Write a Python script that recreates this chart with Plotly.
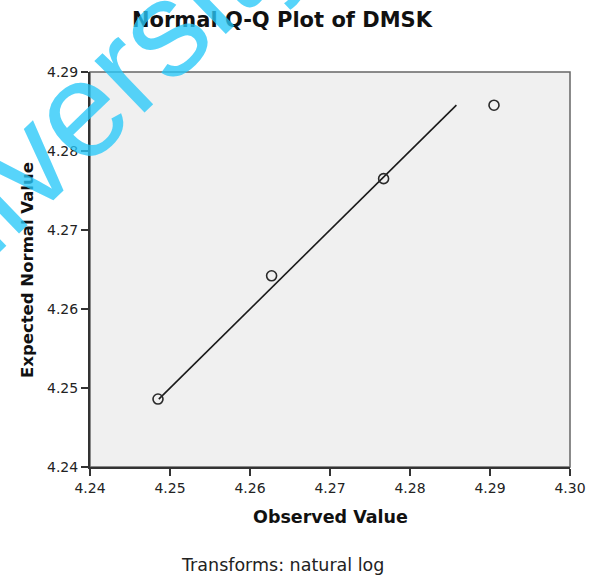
import plotly.graph_objects as go

# Observed (log-transformed) values and their expected normal quantiles
observed = [4.2485, 4.2627, 4.2767, 4.2905]
expected = [4.2486, 4.2642, 4.2765, 4.2858]

x_ticks = [4.24, 4.25, 4.26, 4.27, 4.28, 4.29, 4.30]
x_tick_text = ["4.24", "4.25", "4.26", "4.27", "4.28", "4.29", "4.30"]
y_ticks = [4.24, 4.25, 4.26, 4.27, 4.28, 4.29]
y_tick_text = ["4.24", "4.25", "4.26", "4.27", "4.28", "4.29"]

FONT = "DejaVu Sans"
INK = "#1a1a1a"

fig = go.Figure()

# reference line y = x across the range of expected values
lo, hi = min(expected), max(expected)
fig.add_trace(go.Scatter(
    x=[lo, hi], y=[lo, hi], mode="lines",
    line=dict(color=INK, width=1.6), hoverinfo="skip", showlegend=False,
))

fig.add_trace(go.Scatter(
    x=observed, y=expected, mode="markers",
    marker=dict(symbol="circle-open", size=10, color="#2a2a2a",
                line=dict(width=1.6, color="#2a2a2a")),
    showlegend=False,
))

axis_common = dict(
    showgrid=False, zeroline=False, ticks="outside", ticklen=7,
    tickwidth=1.5, tickcolor="#333", showline=True, linecolor="#333",
    linewidth=2, mirror=False, automargin=False,
    tickfont=dict(family=FONT, size=14, color="#222"),
)

fig.update_xaxes(range=[4.24, 4.30], tickvals=x_ticks, ticktext=x_tick_text,
                 **axis_common)
fig.update_yaxes(range=[4.24, 4.29], tickvals=y_ticks, ticktext=y_tick_text,
                 **axis_common)

fig.update_layout(
    width=589, height=577,
    margin=dict(l=90, r=19, t=72, b=110),
    paper_bgcolor="white", plot_bgcolor="#f0f0f0",
    title=dict(text="<b>Normal Q-Q Plot of DMSK</b>",
               font=dict(family=FONT, size=21, color="#111"),
               x=282 / 589, xanchor="center", xref="container",
               y=1 - 20 / 577, yanchor="middle", yref="container",
               automargin=False),
    shapes=[dict(type="rect", xref="paper", yref="paper", x0=0, x1=1,
                 y0=0, y1=1, line=dict(color="#666", width=1.5),
                 layer="below")],
    annotations=[
        dict(text="<b>Observed Value</b>", xref="paper", yref="paper",
             x=0.5, y=-0.127, xanchor="center", yanchor="middle",
             showarrow=False, font=dict(family=FONT, size=17.5, color="#111")),
        dict(text="<b>Expected Normal Value</b>", xref="paper", yref="paper",
             x=-0.129, y=0.499, xanchor="center", yanchor="middle",
             textangle=-90, showarrow=False,
             font=dict(family=FONT, size=16.5, color="#111")),
        dict(text="Transforms: natural log", xref="paper", yref="paper",
             x=0.402, y=-0.248, xanchor="center", yanchor="middle",
             showarrow=False, font=dict(family=FONT, size=17.5, color="#222")),
        dict(text="University", xref="paper", yref="paper",
             x=-0.0417, y=0.881, xanchor="center", yanchor="middle",
             textangle=-44, showarrow=False,
             font=dict(family="Liberation Sans", size=136,
                       color="rgba(40,200,248,0.78)")),
    ],
)

fig.write_html("out.html")
